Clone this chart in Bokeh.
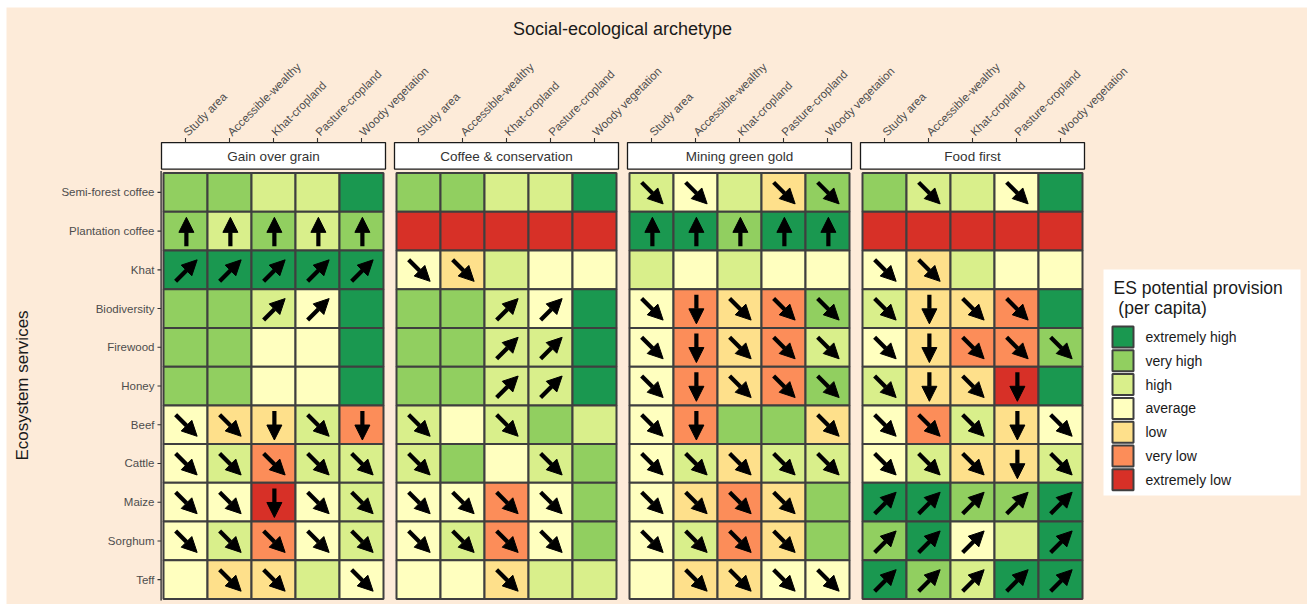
import math
from bokeh.plotting import figure
from bokeh.models import ColumnDataSource, Range1d, Arrow, NormalHead, Spacer
from bokeh.layouts import column, row
from bokeh.core.properties import value
from bokeh.embed import file_html
from bokeh.resources import INLINE

# ---------------- data ----------------
archetypes = ["Gain over grain", "Coffee & conservation", "Mining green gold", "Food first"]
regions = ["Study area", "Accessible-wealthy", "Khat-cropland", "Pasture-cropland", "Woody vegetation"]
services = ["Semi-forest coffee", "Plantation coffee", "Khat", "Biodiversity", "Firewood",
            "Honey", "Beef", "Cattle", "Maize", "Sorghum", "Teff"]
levels = ["extremely high", "very high", "high", "average", "low", "very low", "extremely low"]
level_colors = ["#1a9850", "#91cf60", "#d9ef8b", "#ffffbf", "#fee08b", "#fc8d59", "#d73027"]
# level code: 7 = extremely high ... 1 = extremely low

gain_over_grain = [
    [6, 6, 5, 5, 7], [6, 5, 6, 5, 6], [7, 7, 7, 7, 7], [6, 6, 5, 4, 7], [6, 6, 4, 4, 7],
    [6, 6, 4, 4, 7], [4, 3, 3, 5, 2], [4, 5, 2, 5, 5], [4, 4, 1, 4, 5], [4, 5, 2, 4, 5],
    [4, 3, 3, 5, 4]]
gain_over_grain_trend = [
    ["", "", "", "", ""], ["U", "U", "U", "U", "U"], ["UR", "UR", "UR", "UR", "UR"],
    ["", "", "UR", "UR", ""], ["", "", "", "", ""], ["", "", "", "", ""],
    ["DR", "DR", "D", "DR", "D"], ["DR", "DR", "DR", "DR", "DR"], ["DR", "DR", "D", "DR", "DR"],
    ["DR", "DR", "DR", "DR", "DR"], ["", "DR", "DR", "", "DR"]]

coffee_conservation = [
    [6, 6, 5, 5, 7], [1, 1, 1, 1, 1], [4, 3, 5, 4, 4], [6, 6, 5, 4, 7], [6, 6, 5, 5, 7],
    [6, 6, 5, 5, 7], [5, 4, 5, 6, 5], [5, 6, 4, 5, 6], [4, 4, 2, 4, 6], [4, 5, 2, 4, 6],
    [4, 4, 3, 5, 5]]
coffee_conservation_trend = [
    ["", "", "", "", ""], ["", "", "", "", ""], ["DR", "DR", "", "", ""],
    ["", "", "UR", "UR", ""], ["", "", "UR", "UR", ""], ["", "", "UR", "UR", ""],
    ["DR", "", "DR", "", ""], ["DR", "", "", "DR", ""], ["DR", "DR", "DR", "DR", ""],
    ["DR", "DR", "DR", "DR", ""], ["", "", "DR", "", ""]]

mining_green_gold = [
    [5, 4, 5, 3, 6], [7, 7, 6, 7, 7], [5, 4, 5, 4, 4], [4, 2, 3, 2, 6], [4, 2, 3, 2, 5],
    [4, 2, 3, 2, 6], [4, 2, 6, 6, 3], [4, 5, 3, 5, 5], [4, 3, 2, 3, 6], [4, 5, 2, 3, 6],
    [4, 3, 3, 4, 4]]
mining_green_gold_trend = [
    ["DR", "DR", "", "DR", "DR"], ["U", "U", "U", "U", "U"], ["", "", "", "", ""],
    ["DR", "D", "DR", "DR", "DR"], ["DR", "D", "DR", "DR", "DR"], ["DR", "D", "DR", "DR", "DR"],
    ["DR", "D", "", "", "DR"], ["DR", "DR", "DR", "DR", "DR"], ["DR", "DR", "DR", "DR", ""],
    ["DR", "DR", "DR", "DR", ""], ["", "DR", "DR", "DR", "DR"]]

food_first = [
    [6, 5, 5, 4, 7], [1, 1, 1, 1, 1], [4, 3, 5, 4, 4], [5, 3, 3, 2, 7], [4, 3, 2, 2, 6],
    [5, 3, 3, 1, 7], [4, 2, 5, 3, 4], [4, 5, 3, 3, 5], [7, 7, 6, 6, 7], [6, 7, 4, 5, 7],
    [7, 6, 5, 7, 7]]
food_first_trend = [
    ["", "DR", "", "DR", ""], ["", "", "", "", ""], ["DR", "DR", "", "", ""],
    ["DR", "D", "DR", "DR", ""], ["DR", "D", "DR", "DR", "DR"], ["DR", "D", "DR", "D", ""],
    ["DR", "DR", "DR", "D", "DR"], ["DR", "DR", "DR", "D", "DR"], ["UR", "UR", "UR", "UR", "UR"],
    ["UR", "UR", "UR", "", "UR"], ["UR", "UR", "UR", "UR", "UR"]]

panel_levels = [gain_over_grain, coffee_conservation, mining_green_gold, food_first]
panel_trends = [gain_over_grain_trend, coffee_conservation_trend, mining_green_gold_trend, food_first_trend]

legend_title = ["ES potential provision", "\u00a0(per capita)"]

# ---------------- layout constants (pixels) ----------------
W, H = 1301, 597          # figure size
OX, OY = 6, 7             # figure offset on the page
CW = 44.0                 # cell width px
RH = 38.73                # row height px
TILE_LEFT = 163.0         # page px of first tile's left edge
TILE_TOP = 172.5          # page px of first row's top edge
PITCH = 233.0 / CW        # panel pitch in cell units
NR = len(services)
NC = len(regions)
PEACH = "#fdebd9"
FONT = value("Liberation Sans")


def px_x(page_x):
    return (page_x - TILE_LEFT) / CW


def px_y(page_y):
    return NR - (page_y - TILE_TOP) / RH


x_range = Range1d(px_x(OX), px_x(OX + W))
y_range = Range1d(px_y(OY + H), px_y(OY))

p = figure(width=W, height=H, x_range=x_range, y_range=y_range,
           output_backend="svg", toolbar_location=None, min_border=0,
           x_axis_location=None, y_axis_location=None,
           background_fill_color=PEACH, border_fill_color=PEACH,
           outline_line_color=None)
p.grid.visible = False

# ---------------- tiles ----------------
tx, ty, tc = [], [], []
ax0, ay0, ax1, ay1 = [], [], [], []
DX_D = 21.5 / CW
DY_D = 21.5 / RH
DY_V = 29.0 / RH
vec = {"U": (0.0, DY_V), "D": (0.0, -DY_V), "DR": (DX_D, -DY_D), "UR": (DX_D, DY_D)}
for pi_, (lv, tr) in enumerate(zip(panel_levels, panel_trends)):
    for r in range(NR):
        for c in range(NC):
            cx = pi_ * PITCH + c + 0.5
            cy = NR - r - 0.5
            tx.append(cx)
            ty.append(cy)
            tc.append(level_colors[7 - lv[r][c]])
            t = tr[r][c]
            if t:
                dx, dy = vec[t]
                ax0.append(cx - dx / 2 + 0.02)
                ay0.append(cy - dy / 2 - 0.02)
                ax1.append(cx + dx / 2 + 0.02)
                ay1.append(cy + dy / 2 - 0.02)

p.rect(x=tx, y=ty, width=1, height=1, fill_color=tc, line_color="#3f3f3f", line_width=2)

asrc = ColumnDataSource(dict(x0=ax0, y0=ay0, x1=ax1, y1=ay1))
p.add_layout(Arrow(source=asrc, x_start="x0", y_start="y0", x_end="x1", y_end="y1",
                   line_color="black", line_width=4.2,
                   end=NormalHead(size=15, fill_color="black", line_color="black", line_width=1)))

# ---------------- strips ----------------
strip_x = [i * PITCH + NC / 2 for i in range(len(archetypes))]
p.rect(x=strip_x, y=px_y(155.3), width=224.0 / CW, height=26.5 / RH,
       fill_color="white", line_color="#1a1a1a", line_width=1.3)
p.text(x=strip_x, y=px_y(155.5), text=archetypes, text_font=FONT, text_font_size="13.5px",
       text_color="#333333", text_align="center", text_baseline="middle")

# ---------------- top ticks and labels ----------------
col_x = [i * PITCH + c + 0.5 for i in range(len(archetypes)) for c in range(NC)]
col_lab = [regions[c] for i in range(len(archetypes)) for c in range(NC)]
p.segment(x0=col_x, y0=px_y(137.5), x1=col_x, y1=px_y(142), line_color="#333333", line_width=1.1)
p.text(x=col_x, y=px_y(133.5), text=col_lab, angle=math.pi / 4, text_font=FONT,
       text_font_size="11.5px", text_color="#4d4d4d", text_align="left", text_baseline="middle")

# ---------------- left axis ----------------
row_y = [NR - r - 0.5 for r in range(NR)]
p.segment(x0=px_x(160.6), y0=px_y(170.5), x1=px_x(160.6), y1=px_y(600), line_color="#333333", line_width=1.4)
p.segment(x0=[px_x(157)] * NR, y0=row_y, x1=[px_x(160.6)] * NR, y1=row_y, line_color="#333333", line_width=1.1)
p.text(x=px_x(154), y=row_y, text=services, text_font=FONT, text_font_size="11.5px",
       text_color="#4d4d4d", text_align="right", text_baseline="middle")

# ---------------- titles ----------------
p.text(x=[px_x(622)], y=[px_y(28)], text=["Social-ecological archetype"], text_font=FONT,
       text_font_size="18px", text_color="#1a1a1a", text_align="center", text_baseline="middle")
p.text(x=[px_x(22)], y=[px_y(385)], text=["Ecosystem services"], angle=math.pi / 2, text_font=FONT,
       text_font_size="17px", text_color="#1a1a1a", text_align="center", text_baseline="middle")

# ---------------- legend ----------------
p.quad(left=px_x(1103), right=px_x(1300), top=px_y(269), bottom=px_y(495),
       fill_color="white", line_color=None)
p.text(x=[px_x(1113), px_x(1113)], y=[px_y(287), px_y(307)],
       text=legend_title, text_font=FONT, text_font_size="17.5px",
       text_color="#1a1a1a", text_align="left", text_baseline="middle")
key_y = [px_y(336.5 + 23.8 * k) for k in range(len(levels))]
p.rect(x=[px_x(1122.5)] * len(levels), y=key_y, width=21.0 / CW, height=21.0 / RH,
       fill_color=level_colors, line_color="#3f3f3f", line_width=2)
p.text(x=[px_x(1145)] * len(levels), y=key_y, text=levels, text_font=FONT, text_font_size="14px",
       text_color="#1a1a1a", text_align="left", text_baseline="middle")

layout = column(Spacer(width=W + OX, height=OY), row(Spacer(width=OX, height=H), p))
open("out.html", "w").write(file_html(layout, INLINE))
